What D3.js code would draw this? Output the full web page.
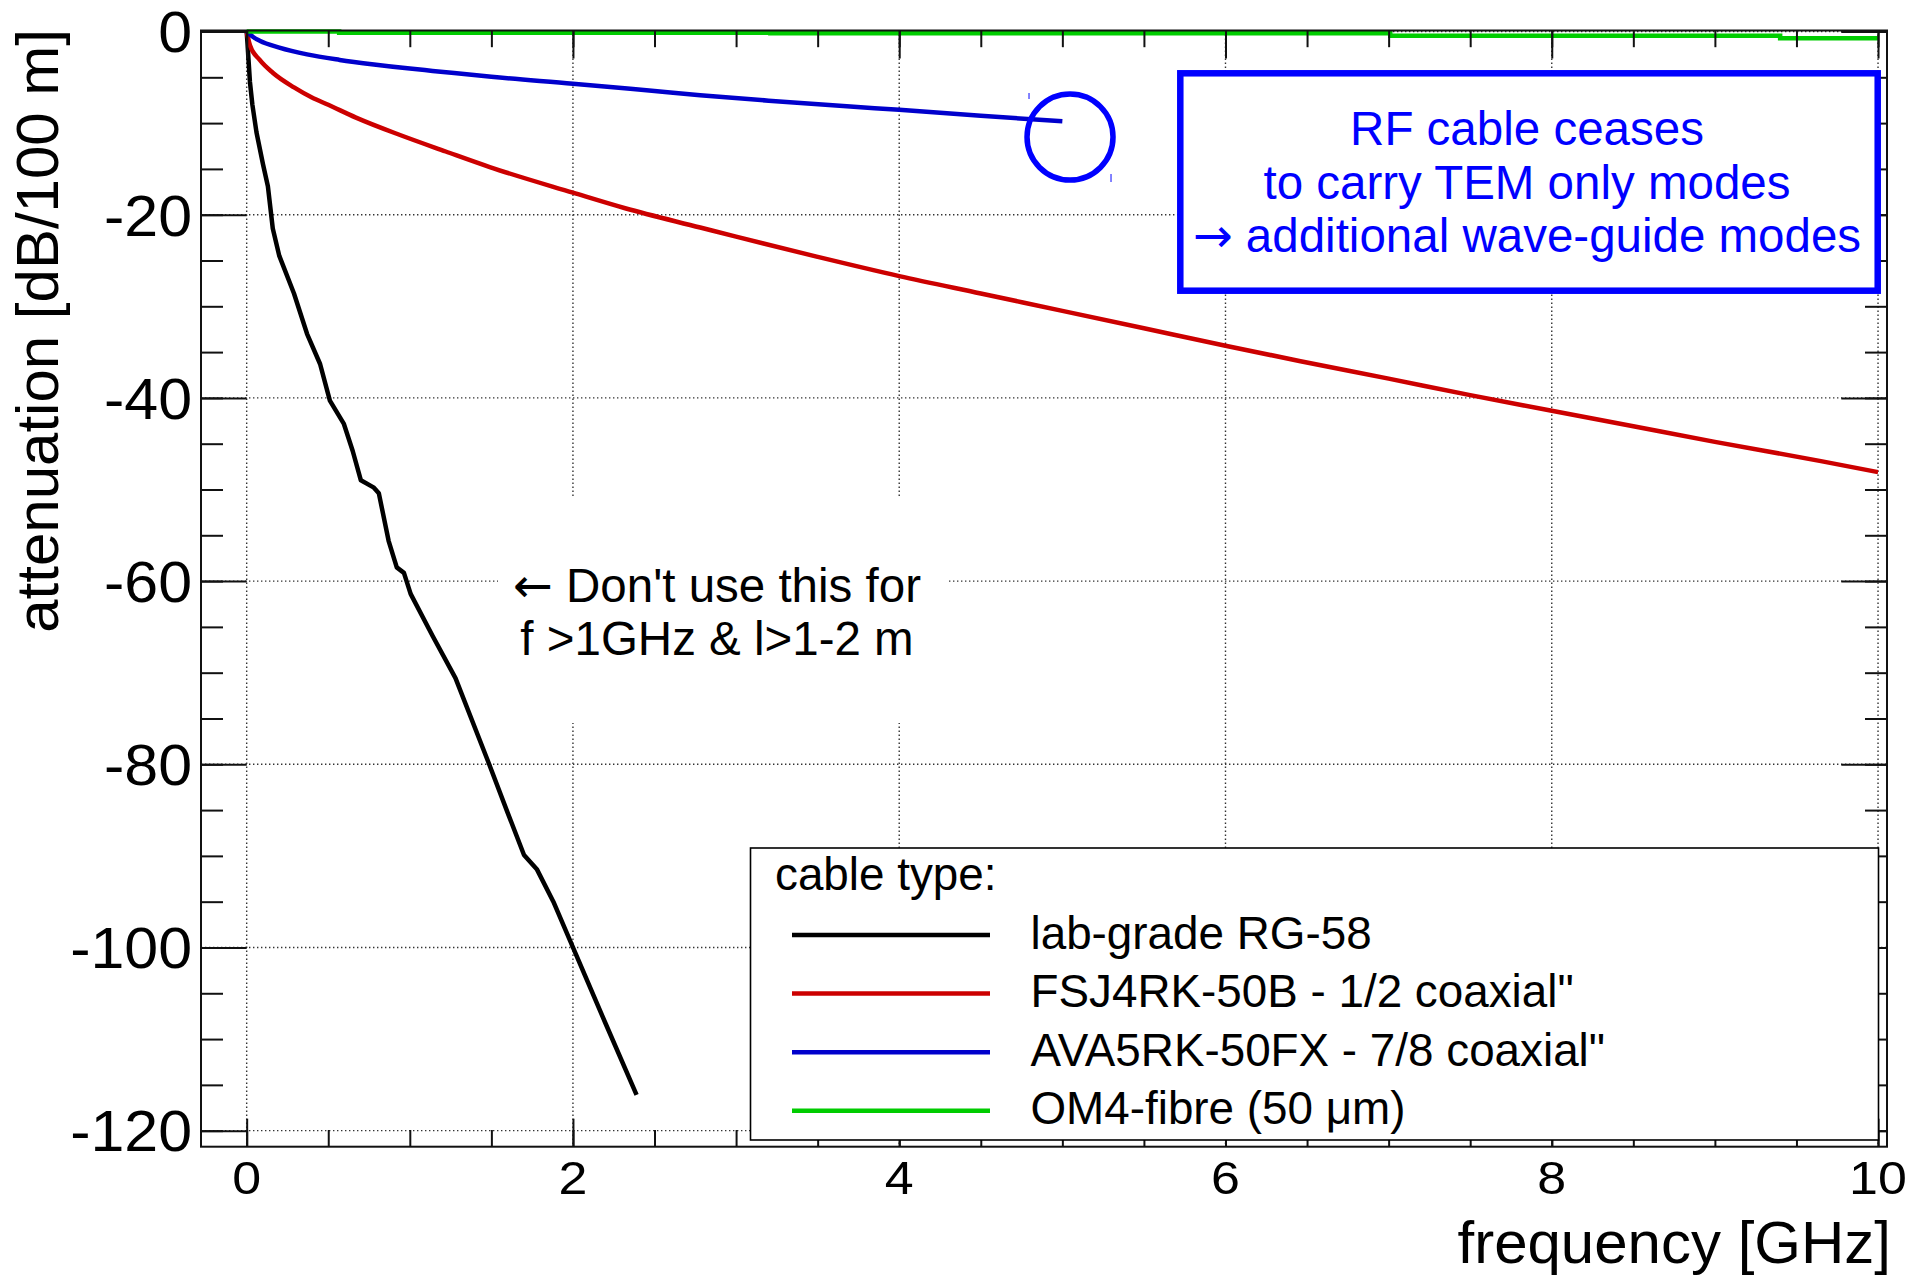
<!DOCTYPE html>
<html><head><meta charset="utf-8">
<script src="https://cdn.jsdelivr.net/npm/d3@7"></script>
<style>
html,body{margin:0;padding:0;background:#fff;}
svg{display:block;}
text{font-family:"Liberation Sans",Arial,Helvetica,sans-serif;fill:#000;}
</style></head><body>
<svg id="chart" width="1922" height="1277"></svg>
<script>
// ---------------- data ----------------
const xMajorTicks = [0, 2, 4, 6, 8, 10];
const xMinorTicks = [0,0.5,1,1.5,2,2.5,3,3.5,4,4.5,5,5.5,6,6.5,7,7.5,8,8.5,9,9.5,10];
const yMajorTicks = [0, -20, -40, -60, -80, -100, -120];
const yMinorTicks = [0,-5,-10,-15,-20,-25,-30,-35,-40,-45,-50,-55,-60,-65,-70,-75,-80,-85,-90,-95,-100,-105,-110,-115,-120];

const seriesNames = ["lab-grade RG-58", "FSJ4RK-50B - 1/2 coaxial\"", "AVA5RK-50FX - 7/8 coaxial\"", "OM4-fibre (50 \u03bcm)"];
const seriesColors = ["#000000", "#cc0000", "#0000cc", "#00cc00"];

// frequency [GHz], attenuation [dB/100 m]
const rg58 = [[0,0],[0.005,-1.3],[0.012,-3.3],[0.02,-5.5],[0.035,-8.0],[0.06,-11.0],[0.1,-14.5],[0.13,-16.9],[0.16,-21.5],[0.2,-24.5],[0.29,-28.6],[0.37,-33.0],[0.45,-36.3],[0.51,-40.3],[0.595,-42.8],[0.65,-45.8],[0.70,-49.0],[0.78,-49.8],[0.81,-50.4],[0.87,-55.6],[0.92,-58.5],[0.964,-59.1],[1.005,-61.4],[1.14,-66.0],[1.28,-70.6],[1.48,-79.7],[1.60,-85.3],[1.70,-89.9],[1.78,-91.5],[1.88,-95.0],[2.00,-100.0],[2.20,-108.3],[2.39,-116.1]];
const fsj4rk = [[0,0],[0.02,-1.5],[0.08,-3.1],[0.16,-4.5],[0.29,-6.1],[0.40,-7.2],[0.5,-8.0],[0.67,-9.4],[0.94,-11.3],[1.22,-13.1],[1.49,-14.8],[2.0,-17.6],[2.32,-19.3],[2.78,-21.4],[3.0,-22.4],[3.5,-24.6],[4.0,-26.7],[4.5,-28.6],[5.0,-30.5],[5.5,-32.4],[6.0,-34.3],[6.46,-36.0],[7.0,-37.9],[7.5,-39.7],[8.0,-41.4],[8.5,-43.1],[9.0,-44.8],[9.65,-46.9],[10.0,-48.1]];
const ava5rk = [[0,0],[0.04,-0.6],[0.08,-1.0],[0.2,-1.75],[0.37,-2.5],[0.57,-3.1],[0.78,-3.6],[1.0,-4.05],[1.14,-4.3],[1.5,-4.95],[2.0,-5.7],[2.5,-6.5],[2.78,-6.95],[3.2,-7.55],[3.7,-8.2],[4.0,-8.55],[4.5,-9.2],[5.0,-9.8]];
const om4 = [[0,0],[0.567,-0.13],[3.21,-0.2],[7.01,-0.46],[9.40,-0.74],[10.0,-0.74]];

const cutoffMark = [5.047, -11.52];   // circled end of the AVA5RK-50FX curve

const legendHeader = "cable type:";
const noteArrow = "\u2190";
const noteLines = [" Don't use this for", "f >1GHz & l>1-2 m"];
const boxArrow = "\u2192";
const boxLines = ["RF cable ceases", "to carry TEM only modes", " additional wave-guide modes"];
const xTitle = "frequency [GHz]";
const yTitle = "attenuation [dB/100 m]";

// ---------------- layout ----------------
const frame = {left: 201, top: 30.5, right: 1887, bottom: 1146.7};
const svg = d3.select("#chart");
svg.append("rect").attr("width",1922).attr("height",1277).attr("fill","#fff");

const x = d3.scaleLinear().domain([-0.28, 10.055]).range([frame.left, frame.right]);
const y = d3.scaleLinear().domain([-121.75, 0.11]).range([frame.bottom, frame.top]);

// grid
const grid = svg.append("g").attr("stroke","#333").attr("stroke-width",1.4).attr("stroke-dasharray","1.4 2.6");
grid.selectAll("line.gx").data(xMajorTicks).join("line").attr("class","gx")
  .attr("x1",d=>x(d)).attr("x2",d=>x(d)).attr("y1",frame.top).attr("y2",frame.bottom);
grid.selectAll("line.gy").data(yMajorTicks).join("line").attr("class","gy")
  .attr("x1",frame.left).attr("x2",frame.right).attr("y1",d=>y(d)).attr("y2",d=>y(d));

// curves
const line = d3.line().x(d=>x(d[0])).y(d=>y(d[1]));
const smooth = d3.line().x(d=>x(d[0])).y(d=>y(d[1])).curve(d3.curveMonotoneX);
const stepLine = d3.line().x(d=>x(d[0])).y(d=>y(d[1])).curve(d3.curveStepAfter);
[[rg58,line],[fsj4rk,smooth],[ava5rk,smooth]].forEach(([c,gen],i)=>{
  svg.append("path").datum(c).attr("d",gen).attr("fill","none")
    .attr("stroke",seriesColors[i]).attr("stroke-width",4.5)
    .attr("stroke-linejoin","round").attr("stroke-linecap","butt");
});
svg.append("path").datum(om4).attr("d",stepLine).attr("fill","none")
  .attr("stroke",seriesColors[3]).attr("stroke-width",4.5);

// frame
svg.append("rect").attr("x",frame.left).attr("y",frame.top)
  .attr("width",frame.right-frame.left).attr("height",frame.bottom-frame.top)
  .attr("fill","none").attr("stroke","#111").attr("stroke-width",2);

// ticks via d3 axes
function ticks(axisFn, values, size, tr){
  const g = svg.append("g").attr("transform",tr)
    .call(axisFn.tickValues(values).tickSize(size).tickSizeOuter(0).tickFormat(""));
  g.select(".domain").remove();
  g.selectAll(".tick line").attr("stroke","#111").attr("stroke-width",2);
}
ticks(d3.axisBottom(x), xMinorTicks, -16.7, `translate(0,${frame.bottom})`);
ticks(d3.axisBottom(x), xMajorTicks, -28, `translate(0,${frame.bottom})`);
ticks(d3.axisTop(x), xMinorTicks, -16.7, `translate(0,${frame.top})`);
ticks(d3.axisTop(x), xMajorTicks, -28, `translate(0,${frame.top})`);
ticks(d3.axisLeft(y), yMinorTicks, -22, `translate(${frame.left},0)`);
ticks(d3.axisLeft(y), yMajorTicks, -45.7, `translate(${frame.left},0)`);
ticks(d3.axisRight(y), yMinorTicks, -22, `translate(${frame.right},0)`);
ticks(d3.axisRight(y), yMajorTicks, -45.7, `translate(${frame.right},0)`);

// tick labels
svg.append("g").selectAll("text").data(yMajorTicks).join("text")
  .attr("transform",d=>`translate(192,${y(d)+20.8}) scale(1.05,1)`)
  .attr("text-anchor","end").attr("font-size",58).text(d=>String(d));
svg.append("g").selectAll("text").data(xMajorTicks).join("text")
  .attr("transform",d=>`translate(${x(d)},1194) scale(1.13,1)`)
  .attr("text-anchor","middle").attr("font-size",46).text(d=>d);

// axis titles
svg.append("text").attr("x",1891).attr("y",1263).attr("text-anchor","end")
  .attr("font-size",60).text(xTitle);
svg.append("text").attr("transform","translate(58,29) rotate(-90)").attr("text-anchor","end")
  .attr("font-size",60).text(yTitle);

// circle marking the end of the 7/8" curve
const cx = x(cutoffMark[0]), cy = y(cutoffMark[1]);
svg.append("circle").attr("cx",cx).attr("cy",cy).attr("r",43)
  .attr("fill","none").attr("stroke","#0000ff").attr("stroke-width",5.5);
svg.append("line").attr("x1",cx-41).attr("x2",cx-41).attr("y1",cy-44).attr("y2",cy-38)
  .attr("stroke","#4040ff").attr("stroke-width",1.3);
svg.append("line").attr("x1",cx+41).attr("x2",cx+41).attr("y1",cy+37).attr("y2",cy+45)
  .attr("stroke","#4040ff").attr("stroke-width",1.3);

// "Don't use" note
const note = svg.append("g");
note.append("rect").attr("x",498).attr("y",498).attr("width",449).attr("height",225).attr("fill","#fff");
const n1 = note.append("text").attr("x",717).attr("y",601.7).attr("text-anchor","middle").attr("font-size",47.5);
n1.append("tspan").style("font-family","'DejaVu Sans'").text(noteArrow);
n1.append("tspan").text(noteLines[0]);
note.append("text").attr("x",717).attr("y",655).attr("text-anchor","middle").attr("font-size",47.5).text(noteLines[1]);

// RF box
const box = svg.append("g");
box.append("rect").attr("x",1180.3).attr("y",73.3).attr("width",697.4).attr("height",217.4)
  .attr("fill","#fff").attr("stroke","#0000ff").attr("stroke-width",6.5);
boxLines.forEach((t,i)=>{
  const tx = box.append("text").attr("x",1527).attr("y",145+i*53.5).attr("text-anchor","middle")
    .attr("font-size",47.5).style("fill","#0000ff");
  if(i===2) tx.append("tspan").style("font-family","'DejaVu Sans'").style("fill","#0000ff").text(boxArrow);
  tx.append("tspan").style("fill","#0000ff").text(t);
});

// legend
const lg = svg.append("g");
lg.append("rect").attr("x",750.5).attr("y",848).attr("width",1128).attr("height",292)
  .attr("fill","#fff").attr("stroke","#000").attr("stroke-width",1.6);
const rowY = i => 876.4 + i*58.6;
lg.append("text").attr("x",775).attr("y",rowY(0)+13.6).attr("font-size",45.8).text(legendHeader);
seriesNames.forEach((name,i)=>{
  lg.append("line").attr("x1",792).attr("x2",990).attr("y1",rowY(i+1)).attr("y2",rowY(i+1))
    .attr("stroke",seriesColors[i]).attr("stroke-width",4.5);
  lg.append("text").attr("x",1030.5).attr("y",rowY(i+1)+13.6).attr("font-size",45.8).text(name);
});
</script>
</body></html>
